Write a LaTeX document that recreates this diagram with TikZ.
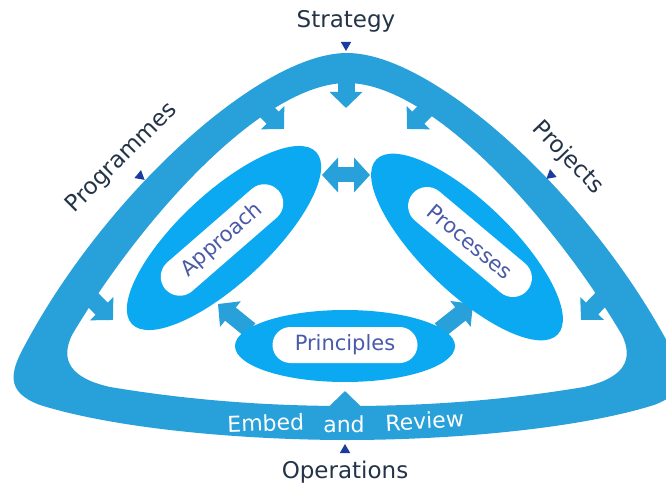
\documentclass[tikz,border=0pt]{standalone}
\usepackage{fontspec}
\setmainfont{DejaVu Sans}
\usetikzlibrary{arrows.meta,shapes.geometric}

\definecolor{bandblue}{HTML}{28A0DA}
\definecolor{lobeblue}{HTML}{0BA9F2}
\definecolor{inktext}{HTML}{4A5AA8}
\definecolor{darktext}{HTML}{233448}
\definecolor{markblue}{HTML}{1A3C9E}

\tikzset{
  band/.style={fill=bandblue, even odd rule},
  lobe/.style={ellipse, fill=lobeblue, inner sep=0pt},
  pill/.style={fill=white, rounded corners=19pt, inner sep=0pt, text=inktext,
    font=\fontsize{21}{24}\selectfont},
  title/.style={text=darktext, font=\fontsize{23}{26}\selectfont},
  bandtext/.style={text=white, anchor=base, font=\fontsize{22}{25}\selectfont},
  marker/.style={regular polygon, regular polygon sides=3, fill=markblue,
    minimum size=12pt, inner sep=0pt},
  fatarrow/.style={draw=bandblue, line width=17pt, -{Triangle[width=32pt,length=16pt]}},
  twoway/.style={draw=bandblue, line width=15pt,
    {Triangle[width=34pt,length=16pt]}-{Triangle[width=34pt,length=16pt]}}
}

\begin{document}
\begin{tikzpicture}[x=1pt,y=-1pt]

    \useasboundingbox (0,0) rectangle (666,486);
    \clip (0,0) rectangle (666,486);

    % Outer band
    \fill[band] (347,53) .. controls (260,53) and (105,195) .. (25,345)
        .. controls (10,372) and (5,392) .. (40,405)
        .. controls (120,430) and (250,440) .. (347,440)
        .. controls (444,440) and (574,430) .. (654,405)
        .. controls (689,392) and (684,372) .. (669,345)
        .. controls (589,195) and (434,53) .. (347,53) -- cycle
      (347,83) .. controls (262,83) and (140,220) .. (72,335)
        .. controls (60,360) and (70,378) .. (110,387)
        .. controls (200,402) and (280,406) .. (347,406)
        .. controls (414,406) and (494,402) .. (584,387)
        .. controls (624,378) and (634,360) .. (622,335)
        .. controls (554,220) and (432,83) .. (347,83) -- cycle;

    % Arrow ends
    \coordinate (topS) at (346,78);     \coordinate (topE) at (346,108);
    \coordinate (tlS) at (258,103);     \coordinate (tlE) at (284,129);
    \coordinate (trS) at (433,103);     \coordinate (trE) at (407,129);
    \coordinate (blS) at (85,292);      \coordinate (blE) at (113,320);
    \coordinate (brS) at (607,293);     \coordinate (brE) at (581,320);
    \coordinate (botS) at (345,412);    \coordinate (botE) at (345,391);
    \coordinate (paS) at (250,330);     \coordinate (paE) at (218,304);
    \coordinate (ppS) at (440,330);     \coordinate (ppE) at (473,304);
    \coordinate (midL) at (322,175);    \coordinate (midR) at (370,175);

    % Arrows
    \draw[fatarrow] (topS) -- (topE);
    \draw[fatarrow] (tlS) -- (tlE);
    \draw[fatarrow] (trS) -- (trE);
    \draw[fatarrow] (blS) -- (blE);
    \draw[fatarrow] (brS) -- (brE);
    \draw[fatarrow] (botS) -- (botE);
    \draw[fatarrow] (paS) -- (paE);
    \draw[fatarrow] (ppS) -- (ppE);
    \draw[twoway] (midL) -- (midR);

    % Inner lobes
    \node[lobe, minimum width=252pt, minimum height=90pt, rotate=43] (approach) at (224,238) {};
    \node[lobe, minimum width=252pt, minimum height=90pt, rotate=-44] (processes) at (467,247) {};
    \node[lobe, minimum width=220pt, minimum height=72pt] (principles) at (345,346) {};

    \node[pill, minimum width=150pt, minimum height=38pt, rotate=41] (approachtxt) at (222,240) {Approach};
    \node[pill, minimum width=150pt, minimum height=38pt, rotate=-40] (processestxt) at (470,242) {Processes};
    \node[pill, minimum width=145pt, minimum height=36pt, rounded corners=18pt] (principlestxt) at (345,345) {Principles};

    % Band text
    \node[bandtext, rotate=2] (embed) at (266,431) {Embed};
    \node[bandtext] (and) at (344,432) {and};
    \node[bandtext, rotate=3] (review) at (425,429) {Review};

    % Outer labels
    \node[title] (strategy) at (346,21) {Strategy};
    \node[title] (operations) at (345,472) {Operations};
    \node[title, rotate=45] (programmes) at (122,158) {Programmes};
    \node[title, rotate=-46] (projects) at (568,158) {Projects};

    % Markers
    \node[marker, rotate=180] (mstrategy) at (346,45) {};
    \node[marker] (moperations) at (345,450) {};
    \node[marker, rotate=-130] (mprogrammes) at (140,176) {};
    \node[marker, rotate=130] (mprojects) at (551,175) {};

\end{tikzpicture}
\end{document}
